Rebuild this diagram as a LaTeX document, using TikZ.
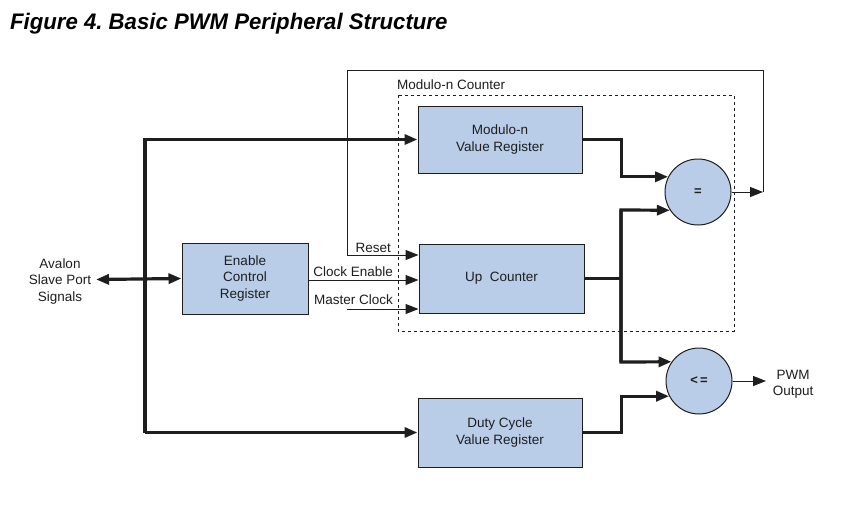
\documentclass[tikz,border=0pt]{standalone}
\usepackage{fontspec}
\setmainfont{Liberation Sans}
\usetikzlibrary{arrows.meta}
\definecolor{boxfill}{RGB}{185,205,233}
\definecolor{ink}{RGB}{30,30,30}
\tikzset{
  blk/.style={draw=ink, line width=1pt, fill=boxfill, align=center, font=\fontsize{13.5}{16.5}\selectfont, text=ink, inner sep=0pt},
  cmp/.style={circle, draw=ink, line width=1pt, fill=boxfill, minimum size=66pt, inner sep=0pt, font=\bfseries\fontsize{13}{15}\selectfont, text=ink},
  lbl/.style={font=\fontsize{13.5}{16.5}\selectfont, text=ink, inner sep=0pt, align=center},
  bus/.style={draw=ink, line width=3.2pt, line join=miter},
  sig/.style={draw=ink, line width=1pt},
  tip/.style={-{Triangle[length=13pt,width=10pt]}},
  tipb/.style={{Triangle[length=13pt,width=10pt]}-{Triangle[length=13pt,width=10pt]}},
  dashbox/.style={draw=ink, line width=0.8pt, dash pattern=on 3pt off 3pt}
}
\begin{document}
\begin{tikzpicture}[x=1pt,y=-1pt]
\useasboundingbox[fill=white] (0,0) rectangle (850,527);

% title
\node[anchor=base west, inner sep=0pt, text=black, font=\bfseries\itshape\fontsize{22.5}{26}\selectfont, xscale=0.985] (title) at (10,30) {Figure 4.\ Basic PWM Peripheral Structure};

% dashed counter boundary
\draw[dashbox] (398,95) rectangle (734,331);
\node[lbl, anchor=base west] (mclbl) at (397,89) {Modulo-n Counter};

% blocks
\node[blk, minimum width=164pt, minimum height=67pt] (mod) at (500,139.5) {Modulo-n\\Value Register};
\node[blk, minimum width=165pt, minimum height=69pt] (up) at (501.5,278.5) {Up\ \ Counter};
\node[blk, minimum width=126pt, minimum height=71pt] (ecr) at (245,278.5) {Enable\\Control\\Register};
\node[blk, minimum width=164pt, minimum height=69pt] (duty) at (500,432.5) {Duty Cycle\\Value Register};
\node[cmp] (eq) at (698,192) {=};
\node[cmp] (le) at (699,381) {<\,=};

% side texts
\node[lbl] (avl) at (60,281.5) {Avalon\\Slave Port\\Signals};
\node[lbl] (pwm) at (793,384.5) {PWM\\Output};

% coordinates
\coordinate (bt) at (145,139.5);
\coordinate (bb) at (145,432.5);
\coordinate (av) at (96,279.5);
\coordinate (fb) at (763,192);
\coordinate (fbt) at (763,70);
\coordinate (fbl) at (347,70);
\coordinate (rs) at (347,255);
\coordinate (mc) at (347,309);
\coordinate (ce) at (308,280);
\coordinate (jn) at (621,278.5);
\coordinate (jt) at (621,210);
\coordinate (jb) at (621,362);
\coordinate (pw) at (766,381);

% bus
\draw[bus, tip] (bb) -- (bt) -- (mod.west);
\draw[bus, tip] (bb) -- (duty.west);
\draw[bus, tipb] (av) -- (ecr.west);

% modulo register to comparator
\draw[bus, tip] (mod.east) -- ++(39,0) |- (eq.153);
% up counter outputs
\draw[bus] (up.east) -- (jn);
\draw[bus, tip] (jb) -- (jt) -- (eq.213);
\draw[bus, tip] (jt) -- (jb) -- (le.145);
% duty register to comparator
\draw[bus, tip] (duty.east) -- ++(39,0) |- (le.207);

% feedback / reset
\draw[sig, tip] (eq.east) -- (fb);
\draw[sig, tip] (fb) -- (fbt) -- (fbl) -- (rs) -- (up.west |- rs);
\draw[sig, tip] (ce) -- (up.west |- ce);
\draw[sig, tip] (mc) -- (up.west |- mc);
\draw[sig, tip] (le.east) -- (pw);

% signal labels
\node[lbl, anchor=base east] (rl) at (391,252) {Reset};
\node[lbl, anchor=base east] (cl) at (393,276) {Clock Enable};
\node[lbl, anchor=base east] (ml) at (393,304) {Master Clock};
\end{tikzpicture}
\end{document}
